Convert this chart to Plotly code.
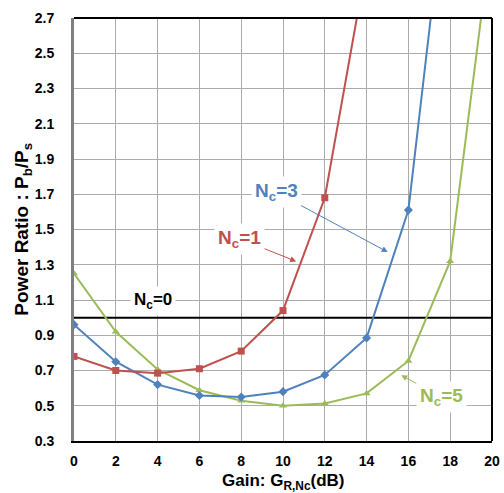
import plotly.graph_objects as go

nc1_x = [0, 2, 4, 6, 8, 10, 12, 14]
nc1_y = [0.78, 0.70, 0.685, 0.71, 0.81, 1.04, 1.68, 3.01]
nc3_x = [0, 2, 4, 6, 8, 10, 12, 14, 16, 18]
nc3_y = [0.96, 0.75, 0.62, 0.558, 0.55, 0.58, 0.675, 0.885, 1.61, 3.65]
nc5_x = [0, 2, 4, 6, 8, 10, 12, 14, 16, 18, 20]
nc5_y = [1.25, 0.92, 0.706, 0.588, 0.528, 0.50, 0.513, 0.57, 0.754, 1.32, 3.19]
nc0_x = [0, 20]
nc0_y = [1.0, 1.0]

x_ticks = [0, 2, 4, 6, 8, 10, 12, 14, 16, 18, 20]
y_ticks = [0.3, 0.5, 0.7, 0.9, 1.1, 1.3, 1.5, 1.7, 1.9, 2.1, 2.3, 2.5, 2.7]

RED = "#C0504D"
BLUE = "#4F81BD"
GREEN = "#9BBB59"
FONT = "Arial, Liberation Sans, sans-serif"

fig = go.Figure()
fig.add_trace(go.Scatter(x=nc0_x, y=nc0_y, mode="lines",
                         line=dict(color="black", width=2), name="Nc=0"))
fig.add_trace(go.Scatter(x=nc5_x, y=nc5_y, mode="lines+markers",
                         line=dict(color=GREEN, width=2),
                         marker=dict(symbol="triangle-up", size=7, color=GREEN), name="Nc=5"))
fig.add_trace(go.Scatter(x=nc3_x, y=nc3_y, mode="lines+markers",
                         line=dict(color=BLUE, width=2),
                         marker=dict(symbol="diamond", size=7, color=BLUE), name="Nc=3"))
fig.add_trace(go.Scatter(x=nc1_x, y=nc1_y, mode="lines+markers",
                         line=dict(color=RED, width=2),
                         marker=dict(symbol="square", size=7, color=RED), name="Nc=1"))

def ann(text, x, y, color, size, tipx=None, tipy=None):
    d = dict(text=text, x=x, y=y, xref="x", yref="y", showarrow=False,
             font=dict(family=FONT, size=size, color=color),
             bgcolor="white", borderpad=3)
    if tipx is not None:
        d.update(x=tipx, y=tipy, ax=x, ay=y, axref="x", ayref="y", showarrow=True,
                 arrowhead=2, arrowsize=1.2, arrowwidth=1, arrowcolor=color,
                 standoff=0, startstandoff=0)
    fig.add_annotation(**d)

ann("<b>N<sub>c</sub>=0</b>", 3.77, 1.094, "black", 17)
ann("<b>N<sub>c</sub>=1</b>", 7.92, 1.448, RED, 19, 10.63, 1.319)
ann("<b>N<sub>c</sub>=3</b>", 9.67, 1.712, BLUE, 19, 15.01, 1.372)
ann("<b>N<sub>c</sub>=5</b>", 17.57, 0.55, GREEN, 19, 15.66, 0.673)

# axis titles
fig.add_annotation(text="<b>Gain: G<sub>R,Nc</sub>(dB)</b>", xref="paper", yref="paper",
                   x=0.5, y=-0.096, xanchor="center", yanchor="middle", showarrow=False,
                   font=dict(size=17, family=FONT, color="black"))
fig.add_annotation(text="<b>Power Ratio : P<sub>b</sub>/P<sub>s</sub></b>", xref="paper", yref="paper",
                   x=-0.124, y=0.5, xanchor="center", yanchor="middle", showarrow=False,
                   textangle=-90, font=dict(size=19, family=FONT, color="black"))

# frame: top and right black
fig.add_shape(type="line", xref="paper", yref="paper", x0=0, x1=1, y0=1, y1=1,
              line=dict(color="black", width=2))
fig.add_shape(type="line", xref="paper", yref="paper", x0=1, x1=1, y0=0, y1=1,
              line=dict(color="black", width=2))

fig.update_layout(
    width=504, height=493,
    margin=dict(l=74, r=12, t=18, b=52),
    plot_bgcolor="white", paper_bgcolor="white",
    showlegend=False,
    font=dict(family=FONT, color="black"),
)
fig.update_xaxes(range=[0, 20], tickvals=x_ticks,
                 ticktext=[f"<b>{v}</b>" for v in x_ticks],
                 tickfont=dict(size=14, family=FONT, color="black"),
                 showgrid=True, gridcolor="#ABABAB", gridwidth=1,
                 showline=True, linecolor="black", linewidth=2,
                 zeroline=False, ticks="", ticklabelstandoff=6, automargin=False)
fig.update_yaxes(range=[0.3, 2.7], tickvals=y_ticks,
                 ticktext=[f"<b>{v:.1f}</b>" for v in y_ticks],
                 tickfont=dict(size=14, family=FONT, color="black"),
                 showgrid=True, gridcolor="#ABABAB", gridwidth=1,
                 showline=True, linecolor="#808080", linewidth=3,
                 zeroline=False, ticks="", ticklabelstandoff=14, automargin=False)

fig.write_html("out.html", config={"displayModeBar": False},
               post_script="document.body.style.margin='0px';")
